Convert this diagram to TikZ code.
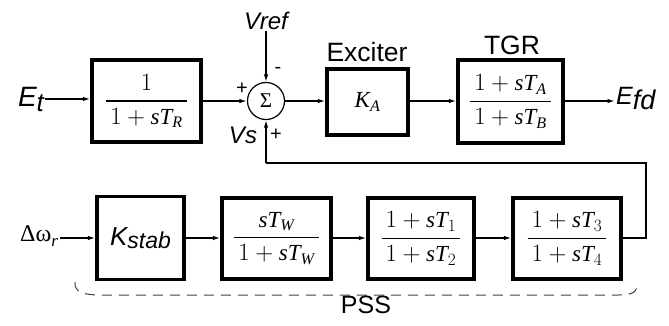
\documentclass[tikz,border=0pt]{standalone}
\usepackage{fontspec}
\setmainfont{Liberation Serif}
\setsansfont{Liberation Sans}
\usetikzlibrary{arrows.meta}
\newcommand{\myfr}[2]{$\displaystyle{\,#1\, \above 1.4pt \,#2\,}$}
\begin{document}
\begin{tikzpicture}[x=1pt,y=-1pt,
  blk/.style={draw, line width=3.3pt, inner sep=0pt, font=\fontsize{23}{25}\selectfont},
  conn/.style={line width=1.4pt, -{Latex[length=7.5pt,width=4.5pt]}},
  wire/.style={line width=1.4pt},
  lbl/.style={font=\sffamily\fontsize{26.5}{28}\selectfont, inner sep=0pt},
  sgn/.style={font=\sffamily\fontsize{20}{20}\selectfont, inner sep=0pt},
  ilbl/.style={font=\sffamily\itshape\fontsize{24}{26}\selectfont, inner sep=1pt},
]
\useasboundingbox (0,0) rectangle (669,325);

% top row
\node[blk, minimum width=109, minimum height=82] (b1) at (146.5,101) {\myfr{1}{1+\mathit{sT}_{\mathit{R}}}};
\node[circle, draw, line width=1.2pt, minimum size=37, inner sep=0pt] (s) at (266,101) {\fontsize{21}{21}\selectfont Σ};
\node[blk, minimum width=81, minimum height=66] (ex) at (367.5,102) {$\mathit{K}_{\mathit{A}}$};
\node[blk, minimum width=105, minimum height=83] (tgr) at (510.5,101.5) {\myfr{1+\mathit{sT}_{\mathit{A}}}{1+\mathit{sT}_{\mathit{B}}}};

\node[lbl] (exl) at (367,52) {Exciter};
\node[lbl] (tgrl) at (512,45) {TGR};

\node[font=\sffamily\itshape\fontsize{28}{30}\selectfont, inner sep=1pt] (et) at (31,99) {E\raisebox{-5pt}{\fontsize{26}{26}\selectfont t}};
\node[font=\sffamily\itshape\fontsize{25}{26}\selectfont, inner sep=1pt, anchor=west] (efd) at (615,99) {E\raisebox{-5pt}{\fontsize{27}{27}\selectfont fd}};
\node[ilbl] (vref) at (266,21) {Vref};
\node[ilbl] (vs) at (243,135) {Vs};
\node[sgn] (m1) at (278,70) {-};
\node[sgn] (p1) at (242,89) {+};
\node[sgn] (p2) at (276,135) {+};

\draw[conn] (et.east) -- (b1.west |- et.east);
\draw[conn] (b1.east) -- (s.west);
\draw[conn] (vref.south) -- (s.north);
\draw[conn] (s.east) -- (ex.west |- s.east);
\draw[conn] (ex.east |- s.east) -- (tgr.west |- s.east);
\draw[conn] (tgr.east |- s.east) -- (efd.west |- s.east);

% bottom row
\node[font=\fontsize{24}{26}\selectfont, inner sep=2pt] (dw) at (39,236) {Δω\raisebox{-5pt}{\fontsize{17}{17}\selectfont\itshape r}};
\node[blk, minimum width=87, minimum height=83] (k) at (140.5,238) {\sffamily\itshape\fontsize{26}{26}\selectfont K\raisebox{-3pt}{\fontsize{23}{23}\selectfont stab}};
\node[blk, minimum width=109, minimum height=81] (b2) at (276.5,238.5) {\myfr{\mathit{sT}_{\mathit{W}}}{1+\mathit{sT}_{\mathit{W}}}};
\node[blk, minimum width=106, minimum height=81] (b3) at (421,238.5) {\myfr{1+\mathit{sT}_{1}}{1+\mathit{sT}_{2}}};
\node[blk, minimum width=108, minimum height=81] (b4) at (567,238.5) {\myfr{1+\mathit{sT}_{3}}{1+\mathit{sT}_{4}}};

\draw[conn] (dw.east |- k.west) -- (k.west);
\draw[conn] (k.east) -- (b2.west |- k.east);
\draw[conn] (b2.east |- k.east) -- (b3.west |- k.east);
\draw[conn] (b3.east |- k.east) -- (b4.west |- k.east);

\coordinate (fr) at (646,163);
\coordinate (fl) at (266,163);
\draw[wire] (b4.east |- k.east) -| (fr) -- (fl);
\draw[conn] (fl) -- (s.south);

% PSS bracket
\coordinate (bl) at (75,282);
\coordinate (br) at (637,282);
\draw[line width=1pt, black!75, dash pattern=on 10pt off 7pt] (bl) .. controls (74,293) and (85,295) .. (102,295) -- (618,295) .. controls (633,295) and (638,292) .. (br);
\node[lbl, font=\sffamily\fontsize{25}{26}\selectfont] (pss) at (366,305) {PSS};
\end{tikzpicture}
\end{document}
